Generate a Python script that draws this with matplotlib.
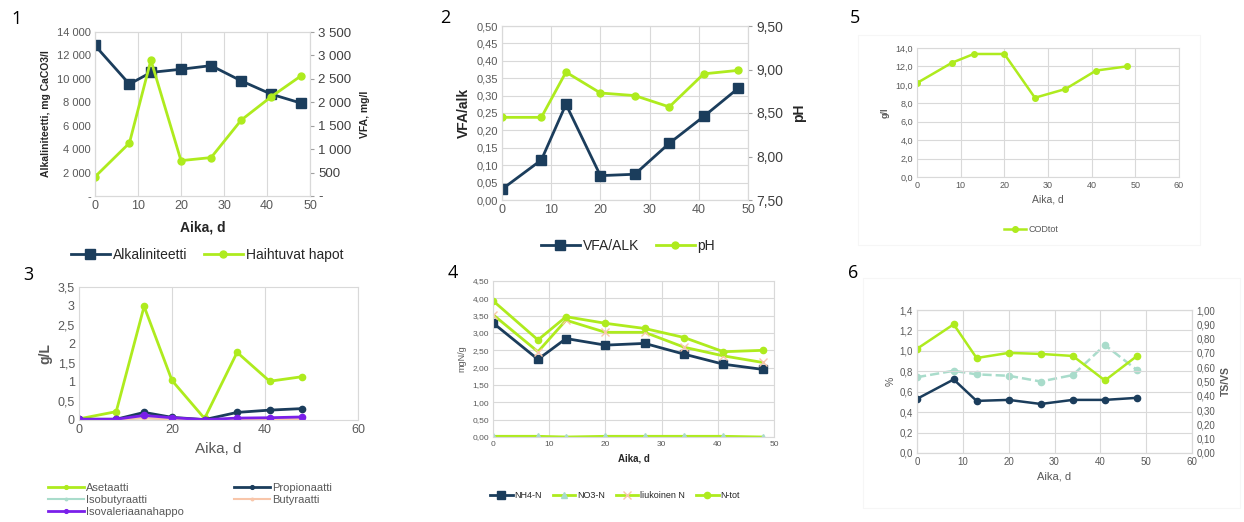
import matplotlib
matplotlib.use("Agg")
import matplotlib.pyplot as plt
from matplotlib.ticker import FuncFormatter, MultipleLocator
from matplotlib.patches import Rectangle

# colours taken from the Excel charts
NAVY = "#1B3D5C"
GREEN = "#AEEB1E"
TEAL = "#A9DCCB"
PEACH = "#F8C6AA"
PURPLE = "#7A1FEA"
GRID = "#D9D9D9"
TXT = "#595959"

plt.rcParams["font.family"] = ["Liberation Sans", "DejaVu Sans"]

# sampling days
days = [0, 8, 13, 20, 27, 34, 41, 48]
days_vfa = [0, 8, 14, 20, 27, 34, 41, 48]

# chart 1
alkalinity = [12850, 9550, 10550, 10820, 11130, 9830, 8690, 7920]
vfa = [410, 1130, 2900, 755, 820, 1620, 2120, 2570]

# chart 2
vfa_alk = [0.031, 0.115, 0.275, 0.070, 0.074, 0.163, 0.240, 0.321]
ph = [8.45, 8.45, 8.97, 8.73, 8.70, 8.57, 8.95, 8.99]

# chart 3
asetaatti = [0.03, 0.22, 2.99, 1.04, 0.04, 1.78, 1.02, 1.14]
propionaatti = [0.02, 0.02, 0.20, 0.07, 0.01, 0.20, 0.26, 0.30]
isobutyraatti = [0.01, 0.01, 0.05, 0.02, 0.00, 0.02, 0.03, 0.03]
butyraatti = [0.01, 0.01, 0.05, 0.01, 0.00, 0.02, 0.02, 0.02]
isovaleriaana = [0.02, 0.02, 0.12, 0.06, 0.01, 0.05, 0.06, 0.08]

# chart 4
nh4_n = [3.29, 2.24, 2.84, 2.65, 2.70, 2.39, 2.10, 1.95]
no3_n = [0.02, 0.02, 0.00, 0.02, 0.02, 0.02, 0.02, 0.00]
liukoinen_n = [3.53, 2.46, 3.37, 3.02, 3.02, 2.59, 2.34, 2.15]
n_tot = [3.93, 2.80, 3.47, 3.28, 3.13, 2.87, 2.46, 2.50]

# chart 5
cod_tot = [10.2, 12.4, 13.35, 13.35, 8.6, 9.55, 11.55, 12.0]

# chart 6
pct_green = [1.02, 1.26, 0.93, 0.98, 0.97, 0.95, 0.71, 0.95]
pct_navy = [0.53, 0.72, 0.51, 0.52, 0.48, 0.52, 0.52, 0.54]
ts_vs = [0.53, 0.575, 0.55, 0.54, 0.50, 0.545, 0.755, 0.58]

W, H = 1244, 522
fig = plt.figure(figsize=(W / 100, H / 100), dpi=100)
fig.patch.set_facecolor("white")


def px_axes(l, t, r, b):
    return fig.add_axes([l / W, 1 - b / H, (r - l) / W, (b - t) / H])


def fx(x):
    return x / W


def fy(y):
    return 1 - y / H


def comma(dec):
    return FuncFormatter(lambda v, p: f"{v:.{dec}f}".replace(".", ","))


def thousands(v, p):
    if abs(v) < 1e-9:
        return "-"
    return f"{v:,.0f}".replace(",", " ")


def style(ax, size=7.5, color=TXT):
    for s in ax.spines.values():
        s.set_color(GRID)
        s.set_linewidth(0.8)
    ax.tick_params(colors=color, labelsize=size, length=0, pad=3)
    ax.set_axisbelow(True)


def panel_no(x, y, n):
    fig.text(fx(x), fy(y), n, fontsize=13, family=["Open Sans", "DejaVu Sans"],
             ha="center", va="center", color="black")


# ---------- chart 1 ----------
ax1 = px_axes(95, 32, 310, 196)
ax1.plot(days, alkalinity, color=NAVY, lw=2, marker="s", ms=7.5, label="Alkaliniteetti")
ax1b = ax1.twinx()
ax1b.plot(days, vfa, color=GREEN, lw=2, marker="o", ms=5, label="Haihtuvat hapot")
ax1.set_xlim(0, 50)
ax1.set_ylim(0, 14000)
ax1b.set_ylim(0, 3500)
ax1.yaxis.set_major_locator(MultipleLocator(2000))
ax1b.yaxis.set_major_locator(MultipleLocator(500))
ax1.yaxis.set_major_formatter(FuncFormatter(thousands))
ax1b.yaxis.set_major_formatter(FuncFormatter(thousands))
ax1.xaxis.set_major_locator(MultipleLocator(10))
ax1.grid(axis="x", color=GRID, lw=0.8)
style(ax1, 8)
ax1.tick_params(axis="x", labelsize=9)
style(ax1b, 9.5, "#404040")
ax1b.tick_params(axis="y", length=3, color="#A0A0A0")
ax1.set_xlabel("Aika, d", fontsize=10, fontweight="bold", color="#262626", labelpad=6)
ax1.set_ylabel("Alkaliniteetti, mg CaCO3/l", fontsize=7.5, fontweight="bold", color="#262626", labelpad=4)
ax1b.set_ylabel("VFA, mg/l", fontsize=7.5, fontweight="bold", color="#262626", labelpad=6)
h1 = ax1.get_legend_handles_labels()[0] + ax1b.get_legend_handles_labels()[0]
fig.legend(h1, ["Alkaliniteetti", "Haihtuvat hapot"], loc="center",
           bbox_to_anchor=(fx(207), fy(255)), ncol=2, frameon=False, fontsize=10,
           handlelength=2.8, columnspacing=1.2, handletextpad=0.2, labelcolor="#262626")
panel_no(17, 19, "1")

# ---------- chart 2 ----------
ax2 = px_axes(502, 26, 748, 200)
ax2.plot(days, vfa_alk, color=NAVY, lw=2, marker="s", ms=7, label="VFA/ALK")
ax2b = ax2.twinx()
ax2b.plot(days, ph, color=GREEN, lw=2, marker="o", ms=5, label="pH")
ax2.set_xlim(0, 50)
ax2.set_ylim(0, 0.5)
ax2b.set_ylim(7.5, 9.5)
ax2.yaxis.set_major_locator(MultipleLocator(0.05))
ax2b.yaxis.set_major_locator(MultipleLocator(0.5))
ax2.yaxis.set_major_formatter(comma(2))
ax2b.yaxis.set_major_formatter(comma(2))
ax2.xaxis.set_major_locator(MultipleLocator(10))
ax2.grid(color=GRID, lw=0.8)
style(ax2, 8)
ax2.tick_params(axis="x", labelsize=9)
style(ax2b, 10, "#404040")
ax2b.tick_params(axis="y", length=3, color="#A0A0A0")
ax2.set_ylabel("VFA/alk", fontsize=10, fontweight="bold", color="#262626", labelpad=4)
ax2b.set_ylabel("pH", fontsize=10, fontweight="bold", color="#262626", labelpad=6)
h2 = ax2.get_legend_handles_labels()[0] + ax2b.get_legend_handles_labels()[0]
fig.legend(h2, ["VFA/ALK", "pH"], loc="center", bbox_to_anchor=(fx(628), fy(246)),
           ncol=2, frameon=False, fontsize=10, handlelength=2.8, columnspacing=1.2,
           handletextpad=0.2, labelcolor="#262626")
panel_no(445, 18, "2")

# ---------- chart 5 ----------
fig.patches.append(Rectangle((fx(858), fy(245)), fx(1200 - 858), (245 - 35) / H,
                             transform=fig.transFigure, fill=False, ec="#F6F6F6", lw=0.8))
ax5 = px_axes(917, 48, 1179, 177)
ax5.plot(days, cod_tot, color=GREEN, lw=1.8, marker="o", ms=4, label="CODtot")
ax5.set_xlim(0, 60)
ax5.set_ylim(0, 14)
ax5.yaxis.set_major_locator(MultipleLocator(2))
ax5.xaxis.set_major_locator(MultipleLocator(10))
ax5.yaxis.set_major_formatter(comma(1))
ax5.grid(color=GRID, lw=0.8)
style(ax5, 6.5)
ax5.set_xlabel("Aika, d", fontsize=7.5, color=TXT, labelpad=3)
ax5.set_ylabel("g/l", fontsize=6.5, fontweight="bold", color=TXT, labelpad=4)
fig.legend(*ax5.get_legend_handles_labels(), loc="center", bbox_to_anchor=(fx(1031), fy(230)),
           frameon=False, fontsize=6.5, handlelength=2.5, handletextpad=0.2, labelcolor=TXT)
panel_no(855, 18, "5")

# ---------- chart 3 ----------
ax3 = px_axes(79, 287, 358, 420)
l_as, = ax3.plot(days_vfa, asetaatti, color=GREEN, lw=2, marker="o", ms=4.5, label="Asetaatti")
l_pr, = ax3.plot(days_vfa, propionaatti, color=NAVY, lw=2, marker="o", ms=4.5, label="Propionaatti")
l_ib, = ax3.plot(days_vfa, isobutyraatti, color=TEAL, lw=1.5, marker="o", ms=3, label="Isobutyraatti")
l_bu, = ax3.plot(days_vfa, butyraatti, color=PEACH, lw=1.5, marker="o", ms=3, label="Butyraatti")
l_iv, = ax3.plot(days_vfa, isovaleriaana, color=PURPLE, lw=2, marker="o", ms=4.5, label="Isovaleriaanahappo")
ax3.set_xlim(0, 60)
ax3.set_ylim(0, 3.5)
ax3.yaxis.set_major_locator(MultipleLocator(0.5))
ax3.xaxis.set_major_locator(MultipleLocator(20))
ax3.yaxis.set_major_formatter(FuncFormatter(lambda v, p: f"{v:g}".replace(".", ",")))
ax3.grid(axis="x", color=GRID, lw=0.8)
style(ax3, 9)
ax3.set_xlabel("Aika, d", fontsize=11, color=TXT, labelpad=4)
ax3.set_ylabel("g/L", fontsize=10, fontweight="bold", color=TXT, labelpad=4)
leg3 = fig.legend([l_as, l_ib, l_iv, l_pr, l_bu],
                  ["Asetaatti", "Isobutyraatti", "Isovaleriaanahappo", "Propionaatti", "Butyraatti"],
                  loc="center", bbox_to_anchor=(fx(190), fy(500)), ncol=2, frameon=False,
                  fontsize=8, handlelength=3.2, handletextpad=0.2, columnspacing=4.5,
                  labelspacing=0.15, labelcolor=TXT, markerscale=0.6)
panel_no(28, 275, "3")

# ---------- chart 4 ----------
ax4 = px_axes(493, 281, 774, 437)
ax4.plot(days, nh4_n, color=NAVY, lw=2, marker="s", ms=5.5, label="NH4-N")
ax4.plot(days, no3_n, color=GREEN, lw=2, marker="^", ms=5, mfc=TEAL, mec=TEAL, label="NO3-N")
ax4.plot(days, liukoinen_n, color=GREEN, lw=2, marker="x", ms=6, mfc=PEACH, mec=PEACH, label="liukoinen N")
ax4.plot(days, n_tot, color=GREEN, lw=2, marker="o", ms=4.5, label="N-tot")
ax4.set_xlim(0, 50)
ax4.set_ylim(0, 4.5)
ax4.yaxis.set_major_locator(MultipleLocator(0.5))
ax4.xaxis.set_major_locator(MultipleLocator(10))
ax4.yaxis.set_major_formatter(comma(2))
ax4.grid(color=GRID, lw=0.8)
style(ax4, 6)
ax4.set_xlabel("Aika, d", fontsize=7, fontweight="bold", color="#262626", labelpad=4)
ax4.set_ylabel("mgN/g", fontsize=6.5, color=TXT, labelpad=4)
fig.legend(*ax4.get_legend_handles_labels(), loc="center", bbox_to_anchor=(fx(615), fy(496)),
           ncol=4, frameon=False, fontsize=6.5, handlelength=2.5, handletextpad=0.2,
           columnspacing=1.2, labelcolor="#262626")
panel_no(453, 273, "4")

# ---------- chart 6 ----------
fig.patches.append(Rectangle((fx(863), fy(508)), fx(1240 - 863), (508 - 278) / H,
                             transform=fig.transFigure, fill=False, ec="#F6F6F6", lw=0.8))
ax6 = px_axes(917, 310, 1192, 453)
ax6.plot(days, pct_green, color=GREEN, lw=1.8, marker="o", ms=4.5)
ax6.plot(days, pct_navy, color=NAVY, lw=1.8, marker="o", ms=4.5)
ax6b = ax6.twinx()
ax6b.plot(days, ts_vs, color=TEAL, lw=1.8, ls="--", marker="o", ms=4.5)
ax6.set_xlim(0, 60)
ax6.set_ylim(0, 1.4)
ax6b.set_ylim(0, 1.0)
ax6.yaxis.set_major_locator(MultipleLocator(0.2))
ax6b.yaxis.set_major_locator(MultipleLocator(0.1))
ax6.xaxis.set_major_locator(MultipleLocator(10))
ax6.yaxis.set_major_formatter(comma(1))
ax6b.yaxis.set_major_formatter(comma(2))
ax6.grid(color=GRID, lw=0.8)
style(ax6, 7)
style(ax6b, 7)
ax6.set_zorder(ax6b.get_zorder() + 1)
ax6.patch.set_visible(False)
ax6.set_xlabel("Aika, d", fontsize=8, color=TXT, labelpad=3)
ax6.set_ylabel("%", fontsize=7.5, color=TXT, labelpad=3)
ax6b.set_ylabel("TS/VS", fontsize=7.5, fontweight="bold", color=TXT, labelpad=4)
panel_no(853, 273, "6")

fig.savefig("out.png", dpi=100)
